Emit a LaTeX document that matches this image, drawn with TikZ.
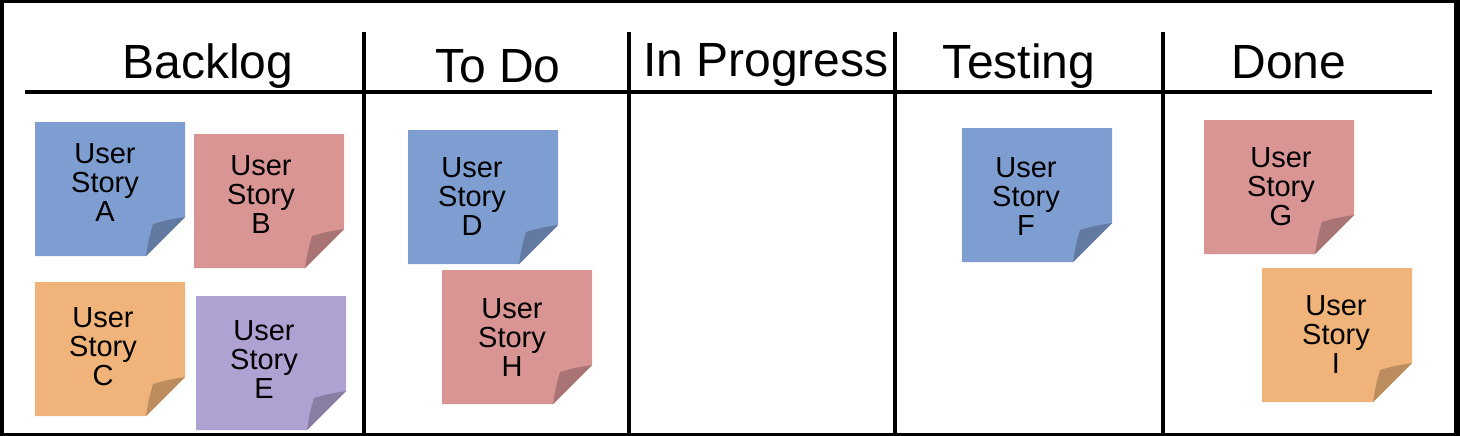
\documentclass[tikz,border=0pt]{standalone}
\usepackage{fontspec}
\setmainfont{Liberation Sans}

\definecolor{noteblue}{RGB}{126,157,208}
\definecolor{notered}{RGB}{217,148,148}
\definecolor{noteorange}{RGB}{240,180,122}
\definecolor{notepurple}{RGB}{176,161,211}

\tikzset{
  colhead/.style={anchor=base, inner sep=0pt, font=\fontsize{48}{48}\selectfont},
  storytext/.style={anchor=north, inner sep=0pt, align=center, font=\fontsize{29}{29}\selectfont},
  boardline/.style={line width=4pt}
}

% sticky note: name, left, top, colour, letter, text dx, text dy
\newcommand{\usnote}[7]{%
  \fill[#4] (#2,#3) -- ++(150,0) -- ++(0,95) -- ++(-39,39) -- ++(-111,0) -- cycle;
  \fill[#4!78!black] (#2+111,#3+134) .. controls (#2+114,#3+116) .. (#2+118,#3+102)
    .. controls (#2+132,#3+98) .. (#2+150,#3+95) -- cycle;
  \node[storytext] (#1) at (#2+#6,#3+#7) {User\\Story\\#5};
}

\begin{document}
\begin{tikzpicture}[x=1pt,y=-1pt]
\useasboundingbox (0,0) rectangle (1460,436);
\fill[black] (0,0) rectangle (1460,436);
\fill[white] (4,3) rectangle (1454,433);

% board
\draw[boardline] (25,92) -- (1432,92);
\foreach \lx in {364,629,895,1163}
  \draw[boardline] (\lx,32) -- (\lx,433);

\node[colhead] (backlog) at (208,78) {Backlog};
\node[colhead] (todo) at (498,83) {To Do};
\node[colhead] (inprogress) at (766,77) {In Progress};
\node[colhead] (testing) at (1019,78) {Testing};
\node[colhead] (done) at (1289,78) {Done};

% stories
\usnote{storyA}{35}{122}{noteblue}{A}{70}{21}
\usnote{storyB}{194}{134}{notered}{B}{67}{21}
\usnote{storyC}{35}{282}{noteorange}{C}{68}{25}
\usnote{storyE}{196}{296}{notepurple}{E}{68}{24}
\usnote{storyD}{408}{130}{noteblue}{D}{64}{27}
\usnote{storyH}{442}{270}{notered}{H}{70}{28}
\usnote{storyF}{962}{128}{noteblue}{F}{64}{29}
\usnote{storyG}{1204}{120}{notered}{G}{77}{27}
\usnote{storyI}{1262}{268}{noteorange}{I}{74}{27}
\end{tikzpicture}
\end{document}
